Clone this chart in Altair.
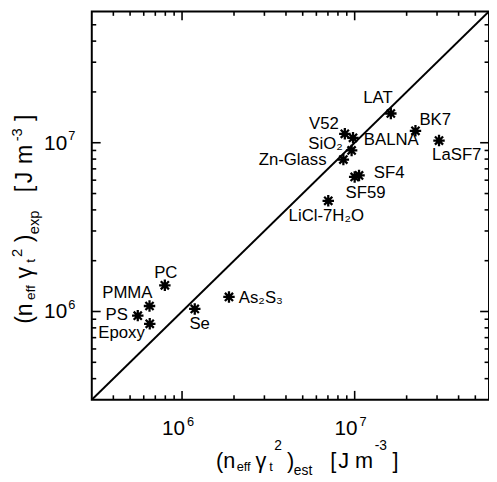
import altair as alt
import pandas as pd

# ---------------- data ----------------
materials = ["LAT", "BK7", "LaSF7", "V52", "BALNA", "SiO₂", "Zn-Glass", "SF4",
             "SF59", "LiCl-7H₂O", "As₂S₃", "Se", "PC", "PMMA", "PS", "Epoxy"]
est_values = [1.62e7, 2.25e7, 3.08e7, 8.77e6, 9.78e6, 9.6e6, 8.6e6, 1.06e7,
              1.0e7, 7.03e6, 1.87e6, 1.185e6, 7.95e5, 6.48e5, 5.54e5, 6.5e5]
exp_values = [1.49e7, 1.177e7, 1.03e7, 1.13e7, 1.07e7, 9.0e6, 7.95e6, 6.4e6,
              6.27e6, 4.53e6, 1.22e6, 1.035e6, 1.43e6, 1.078e6, 9.45e5, 8.45e5]
axis_domain = [3e5, 6e7]
major_ticks = [1e6, 1e7]
major_exponents = ["6", "7"]
minor_ticks = [4e5, 5e5, 6e5, 7e5, 8e5, 9e5,
               2e6, 3e6, 4e6, 5e6, 6e6, 7e6, 8e6, 9e6,
               2e7, 3e7, 4e7, 5e7]

# ---------------- style ----------------
W, H = 403, 394
FONT = "Liberation Sans"
STAR = "M-1,0L1,0M0,-1L0,1M-0.71,-0.71L0.71,0.71M-0.71,0.71L0.71,-0.71"

# label placement: (align, dx, dy)
label_style = {
    "LAT": ("center", -13, -16),
    "BK7": ("left", 4, -11),
    "LaSF7": ("center", 18, 15),
    "V52": ("right", -6, -10),
    "BALNA": ("left", 11, 2),
    "SiO₂": ("right", -9, -6),
    "Zn-Glass": ("right", -17, 1),
    "SF4": ("left", 15, -2),
    "SF59": ("center", 11, 16),
    "LiCl-7H₂O": ("center", -2, 16),
    "As₂S₃": ("left", 10, 1),
    "Se": ("center", 5, 15),
    "PC": ("center", 1, -12),
    "PMMA": ("right", 3, -13),
    "PS": ("right", -10, -1),
    "Epoxy": ("right", -5, 9),
}

df = pd.DataFrame({"name": materials, "est": est_values, "exp": exp_values})
ticks_df = pd.DataFrame({"v": major_ticks, "base": ["10", "10"], "pow": major_exponents})
xs = alt.Scale(type="log", domain=axis_domain, nice=False, zero=False)
ys = alt.Scale(type="log", domain=axis_domain, nice=False, zero=False)

points = alt.Chart(df).mark_point(
    shape=STAR, size=135, filled=False, stroke="black", strokeWidth=2.3, opacity=1
).encode(
    x=alt.X("est:Q", scale=xs, axis=None),
    y=alt.Y("exp:Q", scale=ys, axis=None),
)

diag = alt.Chart(pd.DataFrame({"d": axis_domain})).mark_line(
    color="black", strokeWidth=2, clip=True
).encode(
    x=alt.X("d:Q", scale=xs, axis=None),
    y=alt.Y("d:Q", scale=ys, axis=None),
)

layers = [diag, points]

# inward ticks on all four sides
def tick_layers(values, length):
    t = pd.DataFrame({"v": values})
    base = alt.Chart(t).mark_rule(color="black", strokeWidth=1.6)
    return [
        base.encode(x=alt.X("v:Q", scale=xs, axis=None), y=alt.value(H), y2=alt.value(H - length)),
        base.encode(x=alt.X("v:Q", scale=xs, axis=None), y=alt.value(0), y2=alt.value(length)),
        base.encode(y=alt.Y("v:Q", scale=ys, axis=None), x=alt.value(0), x2=alt.value(length)),
        base.encode(y=alt.Y("v:Q", scale=ys, axis=None), x=alt.value(W), x2=alt.value(W - length)),
    ]

layers += tick_layers(major_ticks, 9)
layers += tick_layers(minor_ticks, 4.5)

# tick labels 10^n (base + superscript exponent)
tl = alt.Chart(ticks_df)
layers += [
    tl.mark_text(align="right", baseline="alphabetic", dx=3, font=FONT, fontSize=21, color="black")
      .encode(x=alt.X("v:Q", scale=xs, axis=None), y=alt.value(H + 36), text="base:N"),
    tl.mark_text(align="left", baseline="alphabetic", dx=5, font=FONT, fontSize=13, color="black")
      .encode(x=alt.X("v:Q", scale=xs, axis=None), y=alt.value(H + 27), text="pow:N"),
    tl.mark_text(align="right", baseline="middle", dy=1, font=FONT, fontSize=21, color="black")
      .encode(y=alt.Y("v:Q", scale=ys, axis=None), x=alt.value(-25), text="base:N"),
    tl.mark_text(align="left", baseline="middle", dy=-7, font=FONT, fontSize=13, color="black")
      .encode(y=alt.Y("v:Q", scale=ys, axis=None), x=alt.value(-24), text="pow:N"),
]

# point labels
for name in materials:
    align, dx, dy = label_style[name]
    layers.append(
        alt.Chart(df).transform_filter(alt.datum.name == name).mark_text(
            align=align, baseline="middle", dx=dx, dy=dy, font=FONT, fontSize=17, color="black"
        ).encode(
            x=alt.X("est:Q", scale=xs, axis=None),
            y=alt.Y("exp:Q", scale=ys, axis=None),
            text="name:N",
        )
    )

# axis titles built from pieces: (text, offset along, baseline shift, font size)
def title_pieces(sub, sup_shift):
    return [
        ("(n", 0, 0, 22), ("eff", 21, 3, 13), ("γ", 40, 0, 22), ("t", 54, 3, 13),
        ("2", 59, sup_shift, 14), (")", 72, 0, 22), (sub, 79, 7, 14),
        ("[", 116, 0, 22), ("J", 124, 0, 22), ("m", 141, 0, 22),
        ("-3", 161, sup_shift, 14), ("]", 179, 0, 22),
    ]

XT_X0, XT_BASE = 219 - 93, 471 - 8     # x title start / baseline (plot coords)
YT_Y0, YT_BASE = 325 - 8, 32 - 93      # y title start / baseline (plot coords)
Y_STRETCH, Y_FONT = 1.15, 1.07

for txt, off, shift, fs in title_pieces("est", -18):
    layers.append(
        alt.Chart(pd.DataFrame({"t": [txt]})).mark_text(
            align="left", baseline="alphabetic", font=FONT, fontSize=fs, color="black"
        ).encode(text="t:N", x=alt.value(XT_X0 + off), y=alt.value(XT_BASE + shift))
    )
for txt, off, shift, fs in title_pieces("exp", -10):
    layers.append(
        alt.Chart(pd.DataFrame({"t": [txt]})).mark_text(
            align="left", baseline="alphabetic", font=FONT, fontSize=round(fs * Y_FONT, 1),
            color="black", angle=270
        ).encode(text="t:N", x=alt.value(YT_BASE + shift), y=alt.value(YT_Y0 - off * Y_STRETCH))
    )

chart = alt.layer(*layers).properties(
    width=W, height=H,
    autosize=alt.AutoSizeParams(type="none"),
    padding={"left": 85, "top": 0, "right": 0, "bottom": 80},
    background="white",
).configure_view(stroke="black", strokeWidth=2)

chart.save("out.html", embed_options={"renderer": "svg", "actions": False})
